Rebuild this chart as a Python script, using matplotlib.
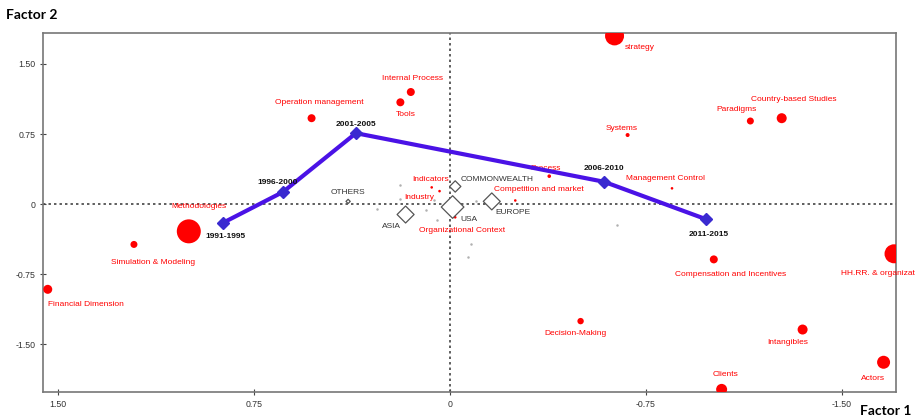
import numpy as np
import matplotlib.pyplot as plt

# periodos (linha azul)
periodos = ['1991-1995', '1996-2000', '2001-2005', '2006-2010', '2011-2015']
per_f1 = [0.87, 0.64, 0.36, -0.59, -0.98]
per_f2 = [-0.20, 0.13, 0.76, 0.24, -0.16]

# temas (pontos vermelhos)
temas = ['strategy', 'Country-based Studies', 'Paradigms', 'Systems', 'Process',
         'Management Control', 'Competition and market', 'Internal Process', 'Tools',
         'Operation management', 'Indicators', 'Industry', 'Organizational Context',
         'Methodologies', 'Simulation & Modeling', 'Financial Dimension',
         'Compensation and Incentives', 'HH.RR. & organizat', 'Decision-Making',
         'Intangibles', 'Actors', 'Clients']
tema_f1 = [-0.63, -1.27, -1.15, -0.68, -0.38, -0.85, -0.25, 0.15, 0.19, 0.53, 0.07, 0.04,
           -0.02, 1.00, 1.21, 1.54, -1.01, -1.70, -0.50, -1.35, -1.66, -1.04]
tema_f2 = [1.80, 0.92, 0.89, 0.74, 0.30, 0.17, 0.04, 1.20, 1.09, 0.92, 0.18, 0.14,
           -0.14, -0.29, -0.43, -0.91, -0.59, -0.53, -1.25, -1.34, -1.69, -1.98]
tema_peso = [9.5, 5, 3.5, 2, 1.8, 1.3, 1.3, 4, 4, 4, 1.3, 1.3,
             1.3, 12, 3.5, 4.5, 4, 9.5, 3.2, 5, 6.5, 5.5]

# regioes (losangos cinza)
regioes = ['COMMONWEALTH', 'EUROPE', 'USA', 'ASIA', 'OTHERS']
reg_f1 = [-0.02, -0.16, -0.01, 0.17, 0.39]
reg_f2 = [0.19, 0.03, -0.03, -0.11, 0.03]
reg_peso = [8, 12, 16, 12, 3]

# pontos pequenos sem rotulo
mini_f1 = [0.19, 0.19, 0.28, 0.09, 0.05, -0.08, -0.07, -0.10, 0.06, 0.02, -0.64]
mini_f2 = [0.21, 0.06, -0.05, -0.06, -0.17, -0.43, -0.56, 0.03, 0.05, -0.03, -0.22]

# deslocamento dos rotulos (pixels)
off_temas = [(10, -12, 'left'), (12, 19, 'center'), (-14, 12, 'center'), (-6, 7, 'center'),
             (-4, 8, 'center'), (-7, 10, 'center'), (24, 11, 'center'), (2, 14, 'center'),
             (5, -12, 'center'), (8, 16, 'center'), (-1, 8, 'center'), (-20, -6, 'center'),
             (7, -13, 'center'), (10, 25, 'center'), (19, -18, 'center'), (0, -15, 'left'),
             (17, -15, 'center'), (-16, -20, 'center'), (-5, -12, 'center'), (-15, -13, 'center'),
             (-11, -16, 'center'), (4, 15, 'center')]
off_per = [(3, -14), (-5, 10), (0, 9), (0, 13), (3, -15)]
off_reg = [(42, 7), (21, -11), (16, -12), (-14, -12), (0, 9)]

vermelho = '#ff0000'
azul = '#4a12e6'

fig = plt.figure(figsize=(9.16, 4.19), dpi=100)
ax = fig.add_axes([0.047, 0.064, 0.931, 0.857])

ax.axhline(0, color='#333333', linestyle=(0, (1.6, 2)), linewidth=1.1, zorder=1)
ax.axvline(0, color='#333333', linestyle=(0, (1.6, 2)), linewidth=1.1, zorder=1)

ax.scatter(mini_f1, mini_f2, s=0.6, color='#b0b0b0', zorder=2)

tam = (np.array(tema_peso) * 2 / 1.389) ** 2
ax.scatter(tema_f1, tema_f2, s=tam, color=vermelho, linewidths=0, zorder=3)
for nome, x, y, (dx, dy, ha) in zip(temas, tema_f1, tema_f2, off_temas):
    ax.annotate(nome, (x, y), xytext=(dx * 0.72, dy * 0.72), textcoords='offset points',
                ha=ha, va='center', color=vermelho, fontsize=6, family='Liberation Sans',
                zorder=5)

tam_r = (np.array(reg_peso) / 1.389) ** 2
ax.scatter(reg_f1, reg_f2, s=tam_r, marker='D', facecolor='white', edgecolor='#555555',
           linewidths=0.9, zorder=4)
for nome, x, y, (dx, dy) in zip(regioes, reg_f1, reg_f2, off_reg):
    ax.annotate(nome, (x, y), xytext=(dx * 0.72, dy * 0.72), textcoords='offset points',
                ha='center', va='center', color='#333333', fontsize=6, family='Liberation Sans',
                zorder=5)

ax.plot(per_f1, per_f2, color=azul, linewidth=3, marker='D', markersize=6,
        markerfacecolor='#3a2ad0', markeredgecolor='#3a2ad0', zorder=6)
for nome, x, y, (dx, dy) in zip(periodos, per_f1, per_f2, off_per):
    ax.annotate(nome, (x, y), xytext=(dx * 0.72, dy * 0.72), textcoords='offset points',
                ha='center', va='center', color='#111111', fontsize=6, fontweight='bold',
                family='Liberation Sans', zorder=7)

ax.set_xlim(1.558, -1.707)
ax.set_ylim(-2.01, 1.83)
ax.set_xticks([1.5, 0.75, 0, -0.75, -1.5])
ax.set_xticklabels(['1.50', '0.75', '0', '-0.75', '-1.50'])
ax.set_yticks([1.5, 0.75, 0, -0.75, -1.5])
ax.set_yticklabels(['1.50', '0.75', '0', '-0.75', '-1.50'])
ax.tick_params(direction='inout', length=5, width=0.8, color='#444444',
               labelsize=6.3, labelcolor='#333333', pad=3)
for lbl in ax.get_xticklabels() + ax.get_yticklabels():
    lbl.set_family('Liberation Sans')
for sp in ax.spines.values():
    sp.set_color('#777777')
    sp.set_linewidth(1.2)

fig.text(0.007, 0.965, 'Factor 2', fontsize=10, fontweight='bold', family='Lato',
         ha='left', va='center')
fig.text(0.995, 0.02, 'Factor 1', fontsize=10, fontweight='bold', family='Lato',
         ha='right', va='center')

plt.savefig('out.png', format='png')
